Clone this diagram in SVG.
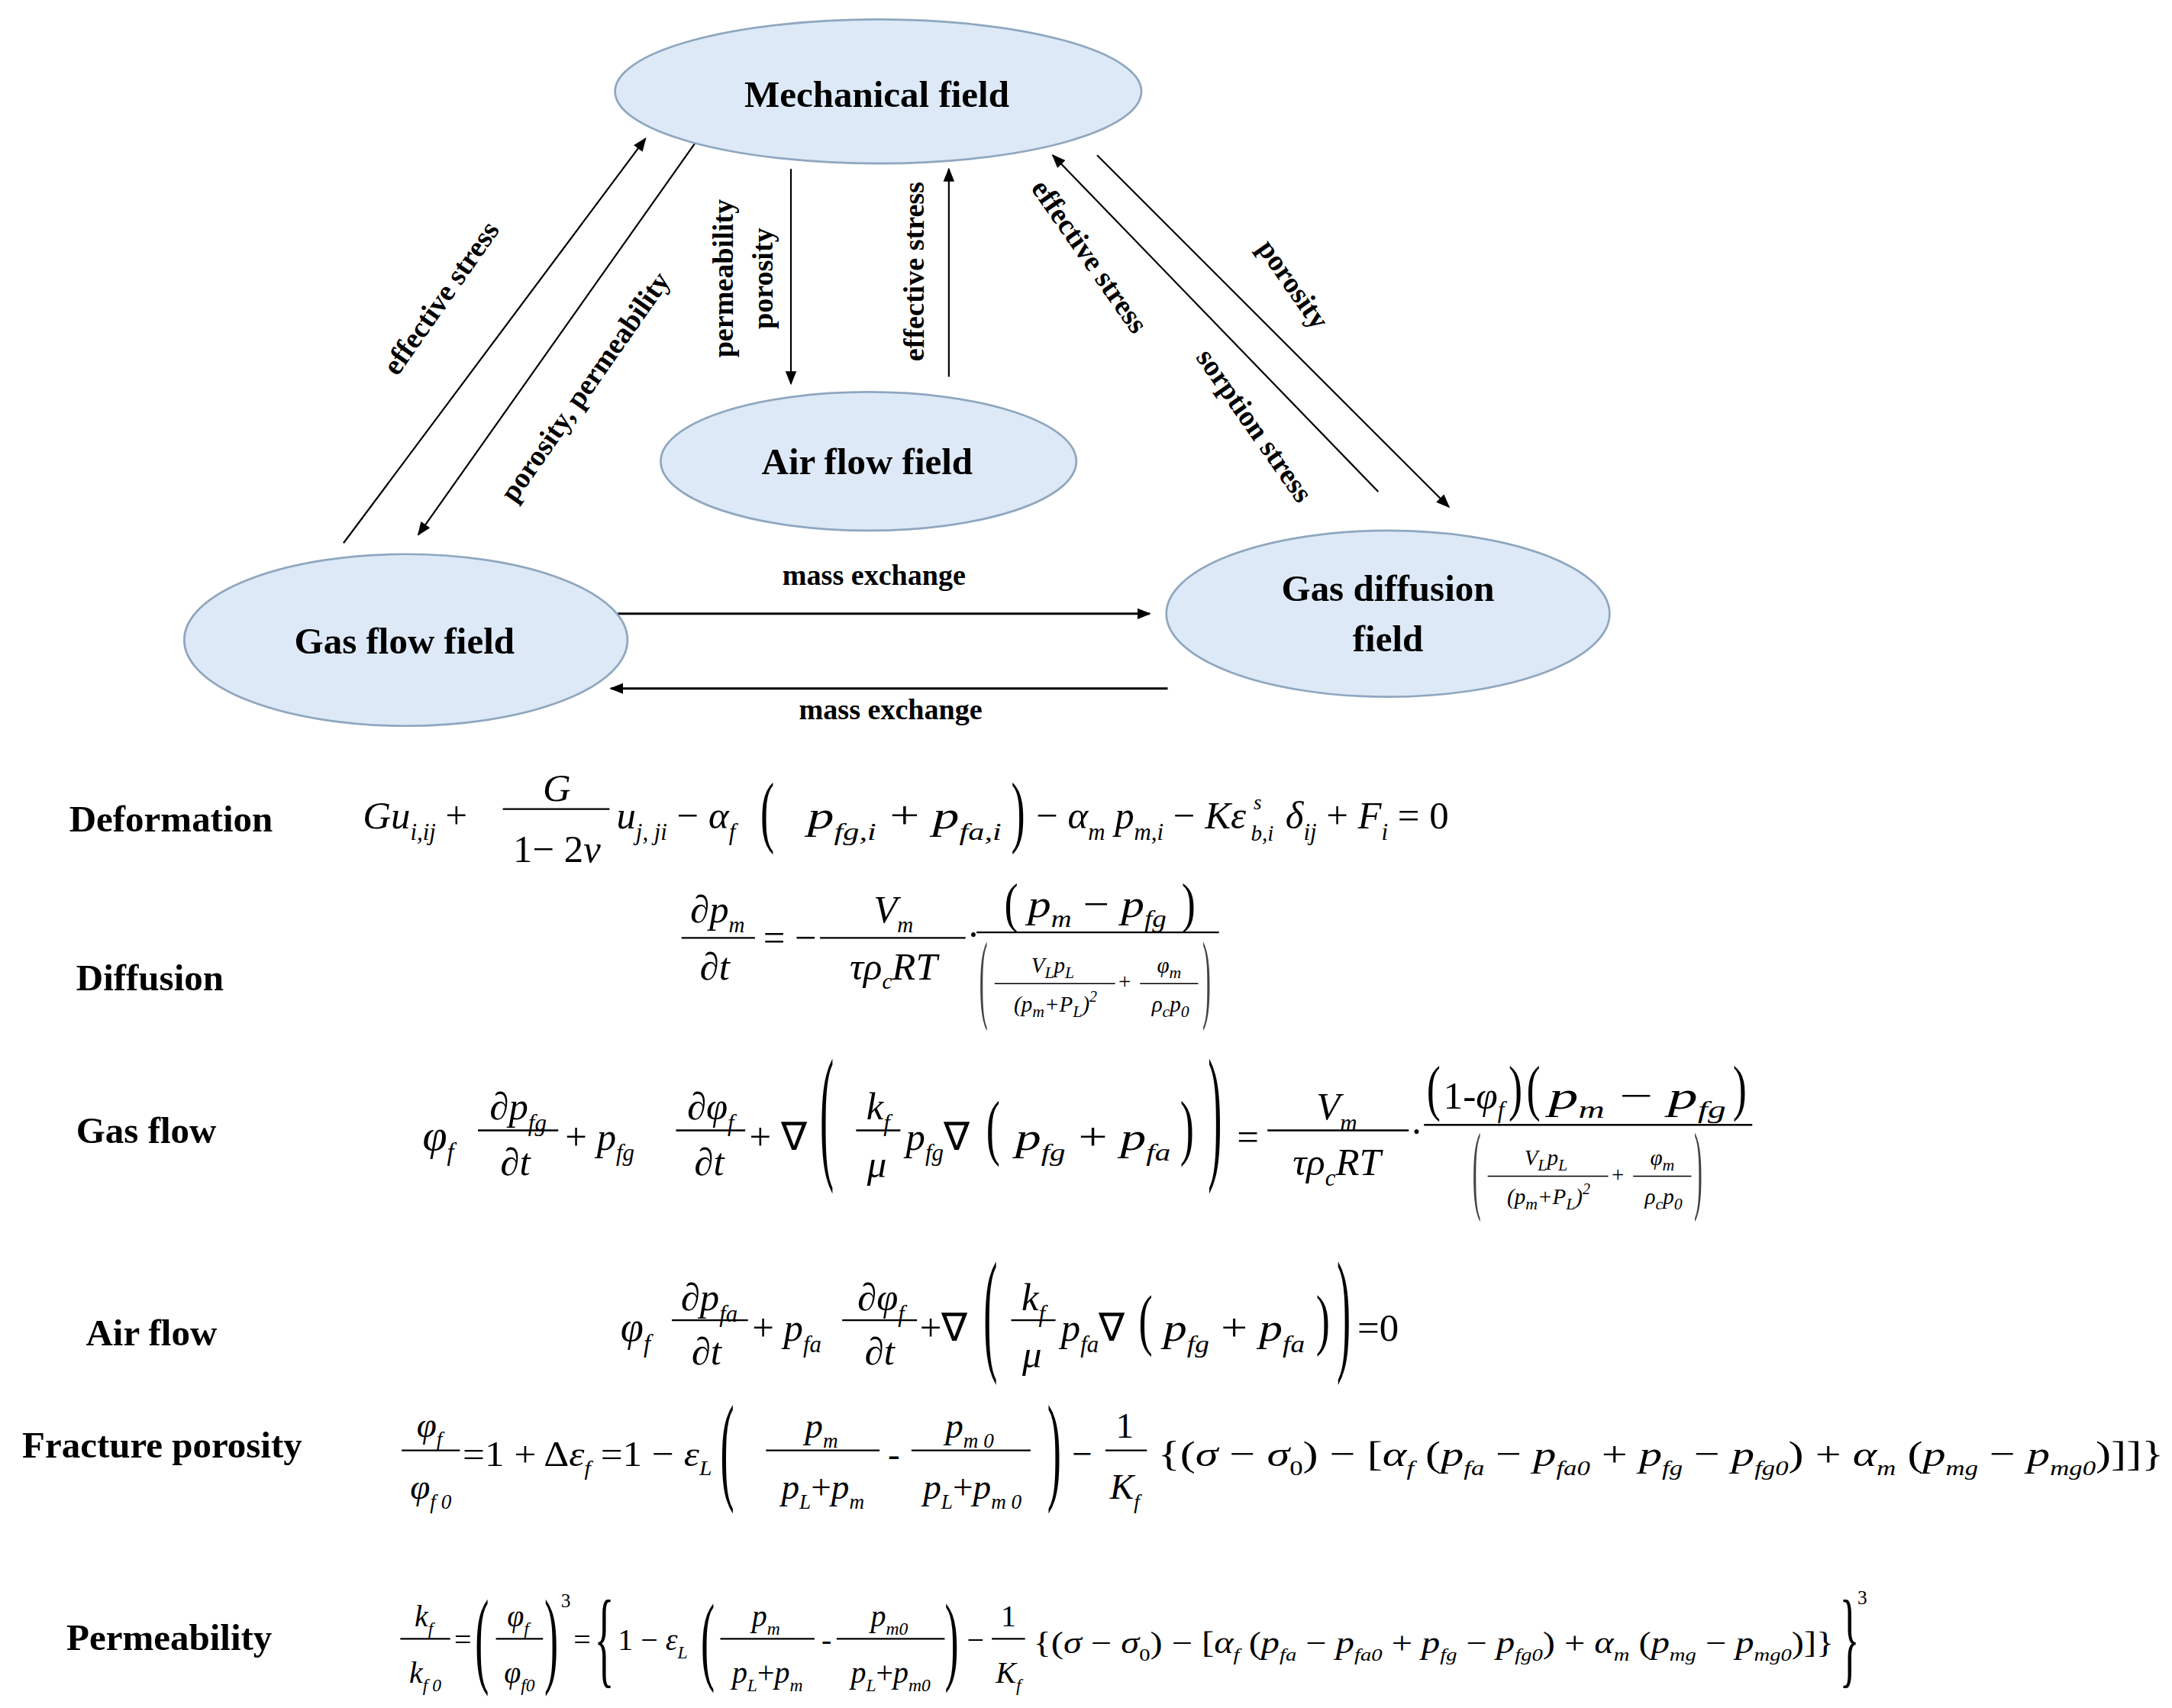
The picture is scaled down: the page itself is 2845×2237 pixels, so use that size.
<svg xmlns="http://www.w3.org/2000/svg" width="2845" height="2237" viewBox="0 0 2845 2237">
<style>
.nd{fill:#dde9f7;stroke:#8fa7bf;stroke-width:1.5}
.nt{font-family:"Liberation Serif",serif;font-weight:bold;font-size:27px;text-anchor:middle}
.lb{font-family:"Liberation Serif",serif;font-weight:bold;font-size:21px;text-anchor:middle}
.cn{stroke:#000;stroke-width:1.2;fill:none;marker-end:url(#ah)}
.hd{font-family:"Liberation Serif",serif;font-weight:bold;font-size:27px;font-style:normal}
.m{font-family:"Liberation Serif",serif}
.mc{font-family:"Liberation Serif",serif;text-anchor:middle}
.sm{font-family:"Liberation Serif",serif;text-anchor:middle}
.pr{font-family:"Liberation Serif",serif;font-style:normal}
.n{font-style:normal}
.fl{stroke:#000;stroke-width:1.3}
</style>
<defs>
<marker id="ah" viewBox="0 0 10 10" refX="9" refY="5" markerWidth="10" markerHeight="10" orient="auto" markerUnits="userSpaceOnUse">
<path d="M0,1 L10,5 L0,9 z" fill="#000"/>
</marker>
</defs>
<rect width="2845" height="2237" fill="#fff"/>
<g transform="scale(1.8144)">
<g id="connectors">
<line class="cn" x1="248" y1="392" x2="466" y2="100"/>
<line class="cn" x1="502" y1="103" x2="302" y2="386"/>
<line class="cn" x1="571" y1="122" x2="571" y2="277"/>
<line class="cn" x1="685" y1="272" x2="685" y2="122"/>
<line class="cn" x1="995" y1="355" x2="760" y2="112"/>
<line class="cn" x1="792" y1="112" x2="1046" y2="366"/>
<line class="cn" x1="446" y1="443" x2="830" y2="443" style="stroke-width:1.6"/>
<line class="cn" x1="843" y1="497" x2="441" y2="497" style="stroke-width:1.6"/>
<text class="lb" transform="translate(324,219) rotate(-55)">effective stress</text>
<text class="lb" transform="translate(428,283) rotate(-55)">porosity, permeability</text>
<text class="lb" transform="translate(529,201) rotate(-90)">permeability</text>
<text class="lb" transform="translate(558,201) rotate(-90)">porosity</text>
<text class="lb" transform="translate(667,196) rotate(-90)">effective stress</text>
<text class="lb" transform="translate(781,189) rotate(55)">effective stress</text>
<text class="lb" transform="translate(900,311) rotate(55)">sorption stress</text>
<text class="lb" transform="translate(928,209) rotate(55)">porosity</text>
<text class="lb" x="631" y="422">mass exchange</text>
<text class="lb" x="643" y="519">mass exchange</text>
</g>
<g id="mechanical"><ellipse class="nd" cx="634" cy="66" rx="190" ry="52"/><text class="nt" x="633" y="77">Mechanical field</text></g>
<g id="airflow"><ellipse class="nd" cx="627" cy="333" rx="150" ry="50"/><text class="nt" x="626" y="342">Air  flow field</text></g>
<g id="gasflow"><ellipse class="nd" cx="293" cy="462" rx="160" ry="62"/><text class="nt" x="292" y="472">Gas flow field</text></g>
<g id="gasdiffusion"><ellipse class="nd" cx="1002" cy="443" rx="160" ry="60"/><text class="nt" x="1002" y="434">Gas diffusion</text><text class="nt" x="1002" y="470">field</text></g>

<g id="equations" font-size="28" font-style="italic">
<text class="hd" x="50" y="600">Deformation</text>
<text class="hd" x="55" y="715">Diffusion</text>
<text class="hd" x="55" y="825">Gas flow</text>
<text class="hd" x="62" y="971">Air flow</text>
<text class="hd" x="16" y="1052">Fracture porosity</text>
<text class="hd" x="48" y="1191">Permeability</text>

<!-- Deformation -->
<text class="m" x="262" y="598">Gu<tspan dy="8" font-size="17">i,ij</tspan><tspan dy="-8" class="n"> +</tspan></text>
<text class="mc" x="402" y="578">G</text><line class="fl" x1="363" y1="584" x2="440" y2="584"/><text class="mc n" x="402" y="622">1− 2<tspan font-style="italic">v</tspan></text>
<text class="m" x="445" y="598">u<tspan dy="8" font-size="17">j, ji</tspan><tspan dy="-8" class="n"> − </tspan>α<tspan dy="8" font-size="17">f</tspan></text>
<text class="pr" font-size="30" transform="translate(549,604.6) scale(1,1.92)">(</text>
<text class="m" x="583" y="598" textLength="140" lengthAdjust="spacingAndGlyphs">p<tspan dy="8" font-size="17">fg,i</tspan><tspan dy="-8" class="n"> + </tspan>p<tspan dy="8" font-size="17">fa,i</tspan></text>
<text class="pr" font-size="30" transform="translate(730,604.6) scale(1,1.92)">)</text>
<text class="m" x="748" y="598"><tspan class="n">− </tspan>α<tspan dy="8" font-size="17">m</tspan><tspan dy="-8"> p</tspan><tspan dy="8" font-size="17">m,i</tspan><tspan dy="-8" class="n"> − </tspan>Kε</text>
<text class="m" x="905" y="584" font-size="15">s</text>
<text class="m" x="903" y="607" font-size="16">b,i</text>
<text class="m" x="928" y="598">δ<tspan dy="8" font-size="17">ij</tspan><tspan dy="-8" class="n"> + </tspan>F<tspan dy="8" font-size="17">i</tspan><tspan dy="-8" class="n"> = 0</tspan></text>

<!-- Diffusion -->
<text class="mc" x="518" y="666">∂p<tspan dy="7" font-size="16">m</tspan></text><line class="fl" x1="492" y1="677" x2="545" y2="677"/><text class="mc" x="516" y="707">∂t</text>
<text class="m n" x="551" y="686">= −</text>
<text class="mc" x="645" y="666">V<tspan dy="7" font-size="16">m</tspan></text><line class="fl" x1="592" y1="677" x2="697" y2="677"/><text class="mc" x="645" y="707">τρ<tspan dy="7" font-size="16">c</tspan><tspan dy="-7">RT</tspan></text>
<text class="m n" x="698" y="684">·</text>
<text class="pr" font-size="30" transform="translate(725,665) scale(1,1.31)">(</text><text class="m" x="742" y="662" textLength="100" lengthAdjust="spacingAndGlyphs">p<tspan dy="7" font-size="17">m</tspan><tspan dy="-7" class="n"> − </tspan>p<tspan dy="7" font-size="17">fg</tspan></text><text class="pr" font-size="30" transform="translate(853,665) scale(1,1.31)">)</text>
<line class="fl" x1="705" y1="673" x2="880" y2="673"/>
<text class="pr" font-size="30" fill="#444" transform="translate(707,729) scale(0.6,2.38)">(</text><text class="pr" font-size="30" fill="#444" transform="translate(868,729) scale(0.6,2.38)">)</text>
<g font-size="16">
<text class="sm" x="760" y="702">V<tspan dy="4" font-size="12">L</tspan><tspan dy="-4">p</tspan><tspan dy="4" font-size="12">L</tspan></text><line class="fl" x1="718" y1="710" x2="805" y2="710" style="stroke-width:0.8"/><text class="sm" x="762" y="730">(p<tspan dy="4" font-size="12">m</tspan><tspan dy="-4">+P</tspan><tspan dy="4" font-size="12">L</tspan><tspan dy="-4">)</tspan><tspan dy="-7" font-size="11">2</tspan></text>
<text class="sm n" x="812" y="714">+</text>
<text class="sm" x="844" y="702">φ<tspan dy="4" font-size="12">m</tspan></text><line class="fl" x1="823" y1="710" x2="865" y2="710" style="stroke-width:0.8"/><text class="sm" x="845" y="730">ρ<tspan dy="4" font-size="12">c</tspan><tspan dy="-4">p</tspan><tspan dy="4" font-size="12">0</tspan></text>
</g>

<!-- Gas flow -->
<text class="m" x="305" y="830" font-size="32">φ<tspan dy="8" font-size="18">f</tspan></text>
<text class="mc" x="374" y="808">∂p<tspan dy="8" font-size="17">fg</tspan></text><line class="fl" x1="345" y1="816" x2="403" y2="816"/><text class="mc" x="372" y="848">∂t</text>
<text class="m" x="408" y="830"><tspan class="n">+ </tspan>p<tspan dy="8" font-size="17">fg</tspan></text>
<text class="mc" x="513" y="808">∂φ<tspan dy="8" font-size="17">f</tspan></text><line class="fl" x1="488" y1="816" x2="538" y2="816"/><text class="mc" x="512" y="848">∂t</text>
<text class="m n" x="541" y="830">+ ∇</text>
<text class="pr" font-size="30" transform="translate(592,839) scale(1,3.58)">(</text>
<text class="mc" x="634" y="808">k<tspan dy="8" font-size="17">f</tspan></text><line class="fl" x1="618" y1="816" x2="650" y2="816"/><text class="mc" x="633" y="850">μ</text>
<text class="m" x="654" y="830">p<tspan dy="8" font-size="17">fg</tspan><tspan dy="-8" class="n">∇</tspan></text>
<text class="pr" font-size="30" transform="translate(712,831) scale(1,1.73)">(</text>
<text class="m" x="733" y="830" textLength="112" lengthAdjust="spacingAndGlyphs">p<tspan dy="8" font-size="17">fg</tspan><tspan dy="-8" class="n"> + </tspan>p<tspan dy="8" font-size="17">fa</tspan></text>
<text class="pr" font-size="30" transform="translate(852,831) scale(1,1.73)">)</text>
<text class="pr" font-size="30" transform="translate(872,839) scale(1,3.58)">)</text>
<text class="m n" x="893" y="830">=</text>
<text class="mc" x="965" y="808">V<tspan dy="8" font-size="17">m</tspan></text><line class="fl" x1="915" y1="816" x2="1017" y2="816"/><text class="mc" x="965" y="848">τρ<tspan dy="8" font-size="17">c</tspan><tspan dy="-8">RT</tspan></text>
<text class="m n" x="1018" y="826">·</text>
<text class="pr" font-size="30" transform="translate(1030,800) scale(1,1.46)">(</text><text class="m" x="1042" y="800" textLength="44" lengthAdjust="spacingAndGlyphs"><tspan class="n">1-</tspan>φ<tspan dy="7" font-size="17">f</tspan></text><text class="pr" font-size="30" transform="translate(1089,800) scale(1,1.46)">)</text>
<text class="pr" font-size="30" transform="translate(1102,800) scale(1,1.46)">(</text><text class="m" x="1118" y="800" textLength="128" lengthAdjust="spacingAndGlyphs">p<tspan dy="7" font-size="17">m</tspan><tspan dy="-7" class="n"> − </tspan>p<tspan dy="7" font-size="17">fg</tspan></text><text class="pr" font-size="30" transform="translate(1251,800) scale(1,1.46)">)</text>
<line class="fl" x1="1028" y1="812" x2="1265" y2="812"/>
<text class="pr" font-size="30" fill="#444" transform="translate(1063,867) scale(0.6,2.38)">(</text><text class="pr" font-size="30" fill="#444" transform="translate(1223,867) scale(0.6,2.38)">)</text>
<g font-size="16">
<text class="sm" x="1116" y="841">V<tspan dy="4" font-size="12">L</tspan><tspan dy="-4">p</tspan><tspan dy="4" font-size="12">L</tspan></text><line class="fl" x1="1074" y1="849" x2="1161" y2="849" style="stroke-width:0.8"/><text class="sm" x="1118" y="869">(p<tspan dy="4" font-size="12">m</tspan><tspan dy="-4">+P</tspan><tspan dy="4" font-size="12">L</tspan><tspan dy="-4">)</tspan><tspan dy="-7" font-size="11">2</tspan></text>
<text class="sm n" x="1168" y="853">+</text>
<text class="sm" x="1200" y="841">φ<tspan dy="4" font-size="12">m</tspan></text><line class="fl" x1="1179" y1="849" x2="1221" y2="849" style="stroke-width:0.8"/><text class="sm" x="1201" y="869">ρ<tspan dy="4" font-size="12">c</tspan><tspan dy="-4">p</tspan><tspan dy="4" font-size="12">0</tspan></text>
</g>

<!-- Air flow -->
<text class="m" x="448" y="968" font-size="30">φ<tspan dy="8" font-size="18">f</tspan></text>
<text class="mc" x="512" y="946">∂p<tspan dy="8" font-size="17">fa</tspan></text><line class="fl" x1="485" y1="953" x2="540" y2="953"/><text class="mc" x="510" y="985">∂t</text>
<text class="m" x="543" y="968"><tspan class="n">+ </tspan>p<tspan dy="8" font-size="17">fa</tspan></text>
<text class="mc" x="636" y="946">∂φ<tspan dy="8" font-size="17">f</tspan></text><line class="fl" x1="608" y1="953" x2="662" y2="953"/><text class="mc" x="635" y="985">∂t</text>
<text class="m n" x="664" y="968">+∇</text>
<text class="pr" font-size="30" transform="translate(710,979) scale(1,3.27)">(</text>
<text class="mc" x="746" y="946">k<tspan dy="8" font-size="17">f</tspan></text><line class="fl" x1="730" y1="953" x2="762" y2="953"/><text class="mc" x="745" y="987">μ</text>
<text class="m" x="766" y="968">p<tspan dy="8" font-size="17">fa</tspan><tspan dy="-8" class="n">∇</tspan></text>
<text class="pr" font-size="30" transform="translate(822,969) scale(1,1.65)">(</text>
<text class="m" x="840" y="968" textLength="102" lengthAdjust="spacingAndGlyphs">p<tspan dy="8" font-size="17">fg</tspan><tspan dy="-8" class="n"> + </tspan>p<tspan dy="8" font-size="17">fa</tspan></text>
<text class="pr" font-size="30" transform="translate(950,969) scale(1,1.65)">)</text>
<text class="pr" font-size="30" transform="translate(965,979) scale(1,3.27)">)</text>
<text class="m n" x="980" y="968">=0</text>

<!-- Fracture porosity -->
<g font-size="26">
<text class="mc" x="310" y="1037">φ<tspan dy="7" font-size="15">f</tspan></text><line class="fl" x1="290" y1="1047" x2="332" y2="1047"/><text class="mc" x="311" y="1082">φ<tspan dy="7" font-size="15">f 0</tspan></text>
<text class="m" x="334" y="1058" textLength="180" lengthAdjust="spacingAndGlyphs"><tspan class="n">=1 + Δ</tspan>ε<tspan dy="7" font-size="15">f</tspan><tspan dy="-7" class="n"> =1 − </tspan>ε<tspan dy="7" font-size="15">L</tspan></text>
<text class="pr" font-size="30" transform="translate(520,1074) scale(1,2.88)">(</text>
<text class="mc" x="593" y="1038">p<tspan dy="7" font-size="15">m</tspan></text><line class="fl" x1="553" y1="1047" x2="635" y2="1047"/><text class="mc" x="594" y="1082">p<tspan dy="7" font-size="15">L</tspan><tspan dy="-7" class="n">+</tspan>p<tspan dy="7" font-size="15">m</tspan></text>
<text class="m n" x="641" y="1058">-</text>
<text class="mc" x="700" y="1038">p<tspan dy="7" font-size="15">m 0</tspan></text><line class="fl" x1="658" y1="1047" x2="744" y2="1047"/><text class="mc" x="702" y="1082">p<tspan dy="7" font-size="15">L</tspan><tspan dy="-7" class="n">+</tspan>p<tspan dy="7" font-size="15">m 0</tspan></text>
<text class="pr" font-size="30" transform="translate(756,1074) scale(1,2.88)">)</text>
<text class="m n" x="774" y="1058">−</text>
<text class="mc n" x="812" y="1038">1</text><line class="fl" x1="798" y1="1047" x2="828" y2="1047"/><text class="mc" x="812" y="1082">K<tspan dy="7" font-size="15">f</tspan></text>
<text class="m" x="836" y="1058" textLength="726" lengthAdjust="spacingAndGlyphs"><tspan class="n">{(</tspan>σ<tspan class="n"> − </tspan>σ<tspan dy="7" font-size="15" class="n">0</tspan><tspan dy="-7" class="n">) − [</tspan>α<tspan dy="7" font-size="15">f</tspan><tspan dy="-7" class="n"> (</tspan>p<tspan dy="7" font-size="15">fa</tspan><tspan dy="-7" class="n"> − </tspan>p<tspan dy="7" font-size="15">fa0</tspan><tspan dy="-7" class="n"> + </tspan>p<tspan dy="7" font-size="15">fg</tspan><tspan dy="-7" class="n"> − </tspan>p<tspan dy="7" font-size="15">fg0</tspan><tspan dy="-7" class="n">) + </tspan>α<tspan dy="7" font-size="15">m</tspan><tspan dy="-7" class="n"> (</tspan>p<tspan dy="7" font-size="15">mg</tspan><tspan dy="-7" class="n"> − </tspan>p<tspan dy="7" font-size="15">mg0</tspan><tspan dy="-7" class="n">)]]}</tspan></text>
</g>

<!-- Permeability -->
<g font-size="22">
<text class="mc" x="306" y="1174">k<tspan dy="6" font-size="13">f</tspan></text><line class="fl" x1="289" y1="1183" x2="325" y2="1183"/><text class="mc" x="307" y="1215">k<tspan dy="6" font-size="13">f 0</tspan></text>
<text class="m n" x="328" y="1191">=</text>
<text class="pr" font-size="30" transform="translate(343,1208) scale(1,2.58)">(</text>
<text class="mc" x="374" y="1174">φ<tspan dy="6" font-size="13">f</tspan></text><line class="fl" x1="358" y1="1183" x2="392" y2="1183"/><text class="mc" x="375" y="1215">φ<tspan dy="6" font-size="13">f0</tspan></text>
<text class="pr" font-size="30" transform="translate(393,1208) scale(1,2.58)">)</text>
<text class="m n" x="405" y="1160" font-size="14">3</text>
<text class="m n" x="414" y="1191">=</text>
<text class="pr" font-size="30" transform="translate(429,1208) scale(1,2.58)">{</text>
<text class="m" x="446" y="1191"><tspan class="n">1 − </tspan>ε<tspan dy="6" font-size="13">L</tspan></text>
<text class="pr" font-size="30" transform="translate(506,1207) scale(1,2.38)">(</text>
<text class="mc" x="553" y="1174">p<tspan dy="6" font-size="13">m</tspan></text><line class="fl" x1="520" y1="1183" x2="588" y2="1183"/><text class="mc" x="554" y="1215">p<tspan dy="6" font-size="13">L</tspan><tspan dy="-6" class="n">+</tspan>p<tspan dy="6" font-size="13">m</tspan></text>
<text class="m n" x="593" y="1191">-</text>
<text class="mc" x="642" y="1174">p<tspan dy="6" font-size="13">m0</tspan></text><line class="fl" x1="604" y1="1183" x2="682" y2="1183"/><text class="mc" x="643" y="1215">p<tspan dy="6" font-size="13">L</tspan><tspan dy="-6" class="n">+</tspan>p<tspan dy="6" font-size="13">m0</tspan></text>
<text class="pr" font-size="30" transform="translate(682,1207) scale(1,2.38)">)</text>
<text class="m n" x="698" y="1191">−</text>
<text class="mc n" x="728" y="1174">1</text><line class="fl" x1="716" y1="1183" x2="740" y2="1183"/><text class="mc" x="728" y="1215">K<tspan dy="6" font-size="13">f</tspan></text>
<text class="m" x="746" y="1193" textLength="578" lengthAdjust="spacingAndGlyphs"><tspan class="n">{(</tspan>σ<tspan class="n"> − </tspan>σ<tspan dy="6" font-size="13" class="n">0</tspan><tspan dy="-6" class="n">) − [</tspan>α<tspan dy="6" font-size="13">f</tspan><tspan dy="-6" class="n"> (</tspan>p<tspan dy="6" font-size="13">fa</tspan><tspan dy="-6" class="n"> − </tspan>p<tspan dy="6" font-size="13">fa0</tspan><tspan dy="-6" class="n"> + </tspan>p<tspan dy="6" font-size="13">fg</tspan><tspan dy="-6" class="n"> − </tspan>p<tspan dy="6" font-size="13">fg0</tspan><tspan dy="-6" class="n">) + </tspan>α<tspan dy="6" font-size="13">m</tspan><tspan dy="-6" class="n"> (</tspan>p<tspan dy="6" font-size="13">mg</tspan><tspan dy="-6" class="n"> − </tspan>p<tspan dy="6" font-size="13">mg0</tspan><tspan dy="-6" class="n">)]}</tspan></text>
<text class="pr" font-size="30" transform="translate(1328,1208) scale(1,2.58)">}</text>
<text class="m n" x="1341" y="1158" font-size="14">3</text>
</g>
</g>
</g>
</svg>
